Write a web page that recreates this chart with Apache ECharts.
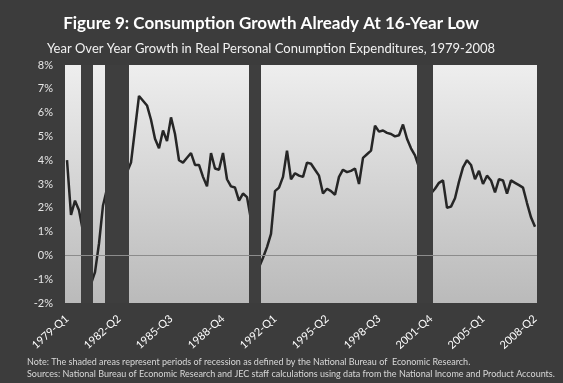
<!DOCTYPE html>
<html>
<head>
<meta charset="utf-8">
<script src="https://cdn.jsdelivr.net/npm/echarts@6/dist/echarts.min.js"></script>
<style>
  html, body { margin: 0; padding: 0; background: #3c3c3c; }
  #chart { width: 563px; height: 383px; }
</style>
</head>
<body>
<div id="chart"></div>
<script>
// Quarterly periods, 1979-Q1 through 2008-Q2
const firstYear = 1979;
const quarterCount = 118;
const quarters = [];
for (let k = 0; k < quarterCount; k++) {
  quarters.push((firstYear + Math.floor(k / 4)) + '-Q' + (k % 4 + 1));
}

// Year-over-year growth in real PCE, percent
const pceGrowth = [
  4.0, 1.7, 2.3, 1.9,
  1.0, -1.3, -1.2, -0.7,
  0.5, 2.1, 2.8, 1.6,
  1.0, 1.4, 2.4, 3.5,
  3.9, 5.3, 6.7, 6.5,
  6.3, 5.7, 4.9, 4.5,
  5.25, 4.8, 5.8, 5.1,
  4.0, 3.9, 4.1, 4.3,
  3.8, 3.8, 3.3, 2.9,
  4.3, 3.65, 3.6, 4.3,
  3.2, 2.9, 2.85, 2.3,
  2.6, 2.45, 1.5, 0.6,
  -0.5, -0.1, 0.35, 0.9,
  2.7, 2.85, 3.3, 4.4,
  3.2, 3.45, 3.35, 3.3,
  3.9, 3.85, 3.6, 3.35,
  2.6, 2.8, 2.7, 2.55,
  3.3, 3.6, 3.5, 3.55,
  3.65, 3.0, 4.1, 4.25,
  4.4, 5.45, 5.2, 5.25,
  5.15, 5.1, 5.0, 5.05,
  5.5, 4.9, 4.5, 4.2,
  3.7, 3.0, 2.4, 2.6,
  2.8, 3.05, 3.15, 2.0,
  2.05, 2.4, 3.1, 3.7,
  4.0, 3.8, 3.2, 3.55,
  3.0, 3.35, 3.15, 2.65,
  3.2, 3.15, 2.6, 3.15,
  3.05, 2.95, 2.85, 2.2,
  1.6, 1.2
];

// NBER recessions (first and last quarter)
const recessions = [
  ['1980-Q1', '1980-Q3'],
  ['1981-Q3', '1982-Q4'],
  ['1990-Q3', '1991-Q1'],
  ['2001-Q1', '2001-Q4']
];

const titleText = 'Figure 9: Consumption Growth Already At 16-Year Low';
const subtitleText = 'Year Over Year Growth in Real Personal Conumption Expenditures, 1979-2008';
const noteText = 'Note: The shaded areas represent periods of recession as defined by the National Bureau of  Economic Research.';
const sourceText = 'Sources: National Bureau of Economic Research and JEC staff calculations using data from the National Income and Product Accounts.';

// Full-height shading for each recession quarter
const recessionBars = quarters.map((q, i) => {
  const inside = recessions.some(([a, b]) =>
    i >= quarters.indexOf(a) && i <= quarters.indexOf(b));
  return inside ? 1 : 0;
});

const chart = echarts.init(document.getElementById('chart'), null, { renderer: 'canvas' });
const font = 'Lato, "Open Sans", sans-serif';

chart.setOption({
  backgroundColor: '#3c3c3c',
  animation: false,
  title: [
    { text: titleText, left: 266, top: 10, textAlign: 'center',
      textStyle: { color: '#ffffff', fontSize: 17, fontWeight: 'bold', fontFamily: font } },
    { text: subtitleText, left: 266, top: 37, textAlign: 'center',
      textStyle: { color: '#f2f2f2', fontSize: 13, fontWeight: 'normal', fontFamily: font } },
    { text: noteText, left: 22, top: 353,
      textStyle: { color: '#d8d8d8', fontSize: 9, fontWeight: 'normal', fontFamily: font } },
    { text: sourceText, left: 22, top: 365,
      textStyle: { color: '#d8d8d8', fontSize: 9, fontWeight: 'normal', fontFamily: font } }
  ],
  grid: {
    left: 65, right: 26, top: 65, bottom: 80,
    show: true, borderWidth: 0,
    backgroundColor: new echarts.graphic.LinearGradient(0, 0, 0, 1, [
      { offset: 0, color: '#eeeeee' },
      { offset: 1, color: '#bababa' }
    ])
  },
  xAxis: {
    type: 'category',
    data: quarters,
    boundaryGap: true,
    axisLine: { show: false, onZero: false },
    axisTick: { show: false },
    axisLabel: {
      interval: 12, rotate: 42, margin: 14,
      color: '#ffffff', fontSize: 11, fontFamily: font
    }
  },
  yAxis: [
    {
      type: 'value', min: -2, max: 8, interval: 1,
      axisLine: { show: false }, axisTick: { show: false },
      splitLine: { show: false },
      axisLabel: { formatter: '{value}%', margin: 12, color: '#e6e6e6', fontSize: 11, fontFamily: font }
    },
    { type: 'value', min: 0, max: 1, show: false, splitLine: { show: false } }
  ],
  series: [
    {
      type: 'line', data: pceGrowth, symbol: 'none', z: 2,
      lineStyle: { color: '#262626', width: 2.5 },
      markLine: {
        silent: true, symbol: 'none', label: { show: false },
        lineStyle: { color: '#8c8c8c', width: 1, type: 'solid' },
        data: [{ yAxis: 0 }]
      }
    },
    {
      type: 'bar', yAxisIndex: 1, data: recessionBars,
      barWidth: '100%', barCategoryGap: 0,
      itemStyle: { color: '#3e3e3e' }, z: 4, silent: true
    }
  ]
});
</script>
</body>
</html>
